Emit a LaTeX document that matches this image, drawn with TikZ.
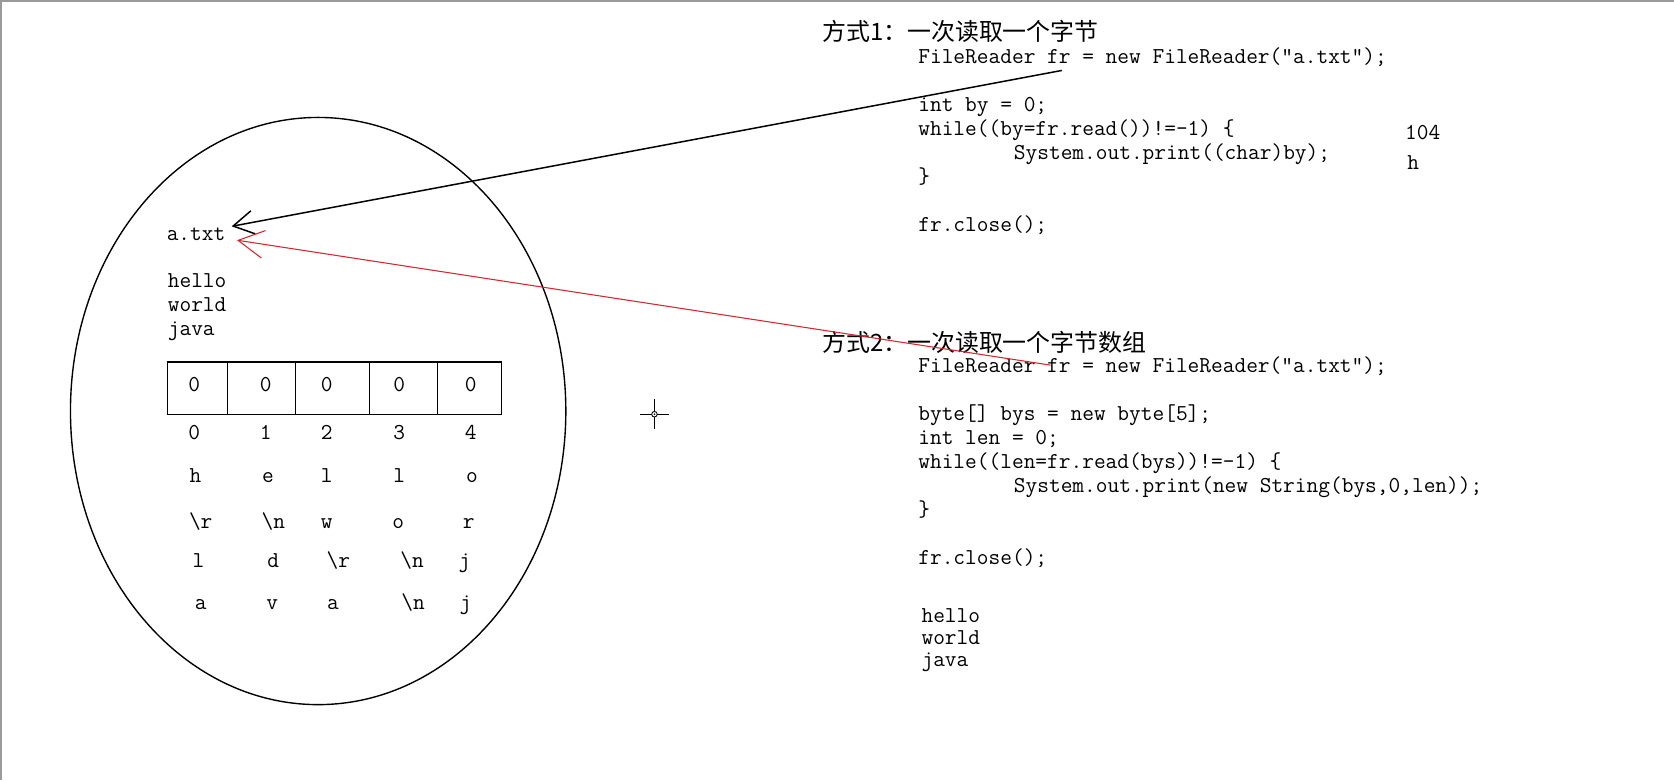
\documentclass[tikz,border=0pt]{standalone}
\usepackage{fontspec}
\newfontfamily\cjk{Noto Sans CJK SC}
\usepackage{tikz}
\usetikzlibrary{arrows.meta}
\definecolor{colorrd}{HTML}{D7262E}
\definecolor{colorfr}{HTML}{9A9A9A}
\newcommand\codefont{\ttfamily\fontsize{21.3}{22.4}\selectfont}
\newcommand\codeind{\hspace*{89.5pt}}
\tikzset{
  codeblk/.style={font=\codefont, inner sep=0pt, align=left, anchor=north west},
  codeln/.style={font=\codefont, inner sep=0pt, anchor=base west},
  cell/.style={font=\codefont, inner sep=0pt, anchor=base},
  heading/.style={font=\cjk\fontsize{22.4}{26}\selectfont, inner sep=0pt, anchor=base west},
  edgebk/.style={black, line width=1.4pt, -{Straight Barb[length=19pt,width=22pt]}},
  edgerd/.style={colorrd, line width=1pt, -{Straight Barb[length=24pt,width=26pt]}}
}

\begin{document}
\begin{tikzpicture}[x=1pt, y=-1pt]
\useasboundingbox (0,0) rectangle (1568,731);
\draw[colorfr, line width=2pt] (0,1) -- (1568,1);
\draw[colorfr, line width=2pt] (1,0) -- (1,731);
% the file a.txt
\draw[line width=1.3pt] (298,385) ellipse [x radius=232pt, y radius=275pt];
\node[codeln] (atxt) at (156,225) {a.txt};
\node[codeblk] (txt) at (157,253.3) {\strut hello\\world\\java};
\draw[line width=1.2pt] (157,339) rectangle (470,388);
\foreach \x in {213,277,346,410}
  \draw[line width=1.2pt] (\x,339) -- (\x,388);
\foreach \x [count=\i] in {182,249,306,374,441} {
  \node[cell] (z\i) at (\x,367) {0};
  \node[cell] (k\i) at (\x,412) {\the\numexpr\i-1\relax};
}
\foreach \x/\t [count=\i] in {183/h,251/e,306/l,374/l,442/o}
  \node[cell] (ra\i) at (\x,452) {\t};
\foreach \x/\t [count=\i] in {188/{\textbackslash r},256/{\textbackslash n},306/w,373/o,439/r}
  \node[cell] (rb\i) at (\x,495) {\t};
\foreach \x/\t [count=\i] in {186/l,256/d,317/{\textbackslash r},386/{\textbackslash n},435/j}
  \node[cell] (rc\i) at (\x,532) {\t};
\foreach \x/\t [count=\i] in {188/a,255/v,312/a,387/{\textbackslash n},436/j}
  \node[cell] (rd\i) at (\x,571) {\t};

% way 1
\node[heading] (h1) at (770,37.5) {方式1：一次读取一个字节};
\node[codeblk] (c1) at (860,43.8) {\strut FileReader fr = new FileReader("a.txt");\\
\mbox{}\\
int by = 0;\\
while((by=fr.read())!=-1) \{\\
\codeind System.out.print((char)by);\\
\}\\
\mbox{}\\
fr.close();};
\node[codeln] (num) at (1316,130.5) {104};
\node[codeln] (chr) at (1318,158.5) {h};

% way 2
\node[heading] (h2) at (770,329.5) {方式2：一次读取一个字节数组};
\node[codeblk] (c2) at (860,333.3) {\strut FileReader fr = new FileReader("a.txt");\\
\mbox{}\\
byte[] bys = new byte[5];\\
int len = 0;\\
while((len=fr.read(bys))!=-1) \{\\
\codeind System.out.print(new String(bys,0,len));\\
\}\\
\mbox{}\\
fr.close();};
\node[codeblk, font={\ttfamily\fontsize{21.3}{20.5}\selectfont}] (out) at (863,568.7) {\strut hello\\world\\java};

% pointers
\coordinate (frA) at (994.5,66);
\coordinate (tipA) at (217,212);
\coordinate (frB) at (984,342);
\coordinate (tipB) at (222,225);
\draw[edgebk] (frA) -- (tipA);
\draw[edgerd] (frB) -- (tipB);

% cursor
\coordinate (cur) at (613,388);
\draw[line width=1.2pt] (cur) ++(-14,0) -- ++(28,0);
\draw[line width=1.2pt] (cur) ++(0,-14) -- ++(0,28);
\draw[line width=0.8pt, fill=white] (cur) circle (2.6pt);
\fill (cur) circle (0.8pt);
\end{tikzpicture}
\end{document}
